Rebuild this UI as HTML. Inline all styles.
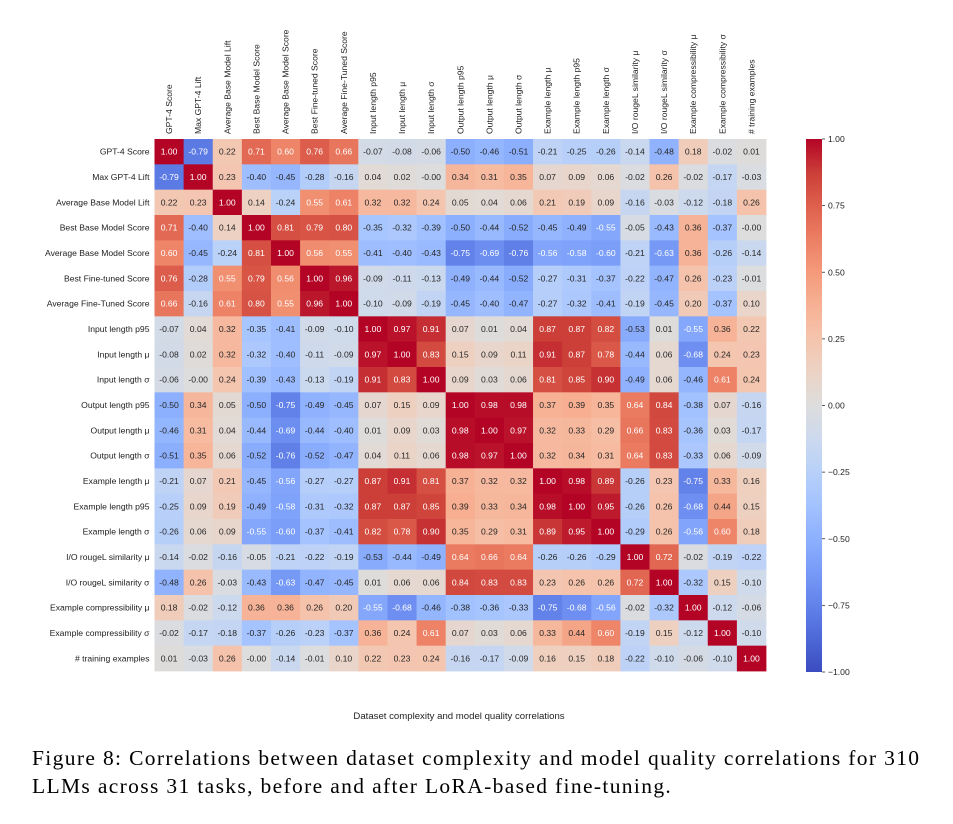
<!DOCTYPE html>
<html><head><meta charset="utf-8"><style>
body{margin:0;background:#fff;width:953px;height:824px;overflow:hidden;}
#cap{position:absolute;left:32px;top:744px;font-family:"Liberation Serif",serif;font-size:21.5px;letter-spacing:1.35px;line-height:28px;color:#000;white-space:nowrap;}
</style></head><body>
<svg id="chart" width="953" height="740" style="position:absolute;left:0;top:0" font-family="Liberation Sans, DejaVu Sans, sans-serif"></svg>
<div id="cap">Figure 8: Correlations between dataset complexity and model quality correlations for 310<br>LLMs across 31 tasks, before and after LoRA-based fine-tuning.</div>
<script>
const labels=["GPT-4 Score","Max GPT-4 Lift","Average Base Model Lift","Best Base Model Score","Average Base Model Score","Best Fine-tuned Score","Average Fine-Tuned Score","Input length p95","Input length μ","Input length σ","Output length p95","Output length μ","Output length σ","Example length μ","Example length p95","Example length σ","I/O rougeL similarity μ","I/O rougeL similarity σ","Example compressibility μ","Example compressibility σ","# training examples"];
const r0=[1.00,-0.79,0.22,0.71,0.60,0.76,0.66,-0.07,-0.08,-0.06,-0.50,-0.46,-0.51,-0.21,-0.25,-0.26,-0.14,-0.48,0.18,-0.02,0.01];
const r1=[-0.79,1.00,0.23,-0.40,-0.45,-0.28,-0.16,0.04,0.02,-0.00,0.34,0.31,0.35,0.07,0.09,0.06,-0.02,0.26,-0.02,-0.17,-0.03];
const r2=[0.22,0.23,1.00,0.14,-0.24,0.55,0.61,0.32,0.32,0.24,0.05,0.04,0.06,0.21,0.19,0.09,-0.16,-0.03,-0.12,-0.18,0.26];
const r3=[0.71,-0.40,0.14,1.00,0.81,0.79,0.80,-0.35,-0.32,-0.39,-0.50,-0.44,-0.52,-0.45,-0.49,-0.55,-0.05,-0.43,0.36,-0.37,-0.00];
const r4=[0.60,-0.45,-0.24,0.81,1.00,0.56,0.55,-0.41,-0.40,-0.43,-0.75,-0.69,-0.76,-0.56,-0.58,-0.60,-0.21,-0.63,0.36,-0.26,-0.14];
const r5=[0.76,-0.28,0.55,0.79,0.56,1.00,0.96,-0.09,-0.11,-0.13,-0.49,-0.44,-0.52,-0.27,-0.31,-0.37,-0.22,-0.47,0.26,-0.23,-0.01];
const r6=[0.66,-0.16,0.61,0.80,0.55,0.96,1.00,-0.10,-0.09,-0.19,-0.45,-0.40,-0.47,-0.27,-0.32,-0.41,-0.19,-0.45,0.20,-0.37,0.10];
const r7=[-0.07,0.04,0.32,-0.35,-0.41,-0.09,-0.10,1.00,0.97,0.91,0.07,0.01,0.04,0.87,0.87,0.82,-0.53,0.01,-0.55,0.36,0.22];
const r8=[-0.08,0.02,0.32,-0.32,-0.40,-0.11,-0.09,0.97,1.00,0.83,0.15,0.09,0.11,0.91,0.87,0.78,-0.44,0.06,-0.68,0.24,0.23];
const r9=[-0.06,-0.00,0.24,-0.39,-0.43,-0.13,-0.19,0.91,0.83,1.00,0.09,0.03,0.06,0.81,0.85,0.90,-0.49,0.06,-0.46,0.61,0.24];
const r10=[-0.50,0.34,0.05,-0.50,-0.75,-0.49,-0.45,0.07,0.15,0.09,1.00,0.98,0.98,0.37,0.39,0.35,0.64,0.84,-0.38,0.07,-0.16];
const r11=[-0.46,0.31,0.04,-0.44,-0.69,-0.44,-0.40,0.01,0.09,0.03,0.98,1.00,0.97,0.32,0.33,0.29,0.66,0.83,-0.36,0.03,-0.17];
const r12=[-0.51,0.35,0.06,-0.52,-0.76,-0.52,-0.47,0.04,0.11,0.06,0.98,0.97,1.00,0.32,0.34,0.31,0.64,0.83,-0.33,0.06,-0.09];
const r13=[-0.21,0.07,0.21,-0.45,-0.56,-0.27,-0.27,0.87,0.91,0.81,0.37,0.32,0.32,1.00,0.98,0.89,-0.26,0.23,-0.75,0.33,0.16];
const r14=[-0.25,0.09,0.19,-0.49,-0.58,-0.31,-0.32,0.87,0.87,0.85,0.39,0.33,0.34,0.98,1.00,0.95,-0.26,0.26,-0.68,0.44,0.15];
const r15=[-0.26,0.06,0.09,-0.55,-0.60,-0.37,-0.41,0.82,0.78,0.90,0.35,0.29,0.31,0.89,0.95,1.00,-0.29,0.26,-0.56,0.60,0.18];
const r16=[-0.14,-0.02,-0.16,-0.05,-0.21,-0.22,-0.19,-0.53,-0.44,-0.49,0.64,0.66,0.64,-0.26,-0.26,-0.29,1.00,0.72,-0.02,-0.19,-0.22];
const r17=[-0.48,0.26,-0.03,-0.43,-0.63,-0.47,-0.45,0.01,0.06,0.06,0.84,0.83,0.83,0.23,0.26,0.26,0.72,1.00,-0.32,0.15,-0.10];
const r18=[0.18,-0.02,-0.12,0.36,0.36,0.26,0.20,-0.55,-0.68,-0.46,-0.38,-0.36,-0.33,-0.75,-0.68,-0.56,-0.02,-0.32,1.00,-0.12,-0.06];
const r19=[-0.02,-0.17,-0.18,-0.37,-0.26,-0.23,-0.37,0.36,0.24,0.61,0.07,0.03,0.06,0.33,0.44,0.60,-0.19,0.15,-0.12,1.00,-0.10];
const r20=[0.01,-0.03,0.26,-0.00,-0.14,-0.01,0.10,0.22,0.23,0.24,-0.16,-0.17,-0.09,0.16,0.15,0.18,-0.22,-0.10,-0.06,-0.10,1.00];
const matrix=[r0,r1,r2,r3,r4,r5,r6,r7,r8,r9,r10,r11,r12,r13,r14,r15,r16,r17,r18,r19,r20];
const cbTicks=[1.00,0.75,0.50,0.25,0.00,-0.25,-0.50,-0.75,-1.00];

const cmap=[[59,76,192],[77,104,215],[98,130,234],[119,154,247],[141,176,254],[163,194,255],[184,208,249],[204,217,238],[221,221,221],[236,211,197],[245,196,173],[247,177,148],[244,154,123],[236,127,99],[222,96,77],[203,62,56],[180,4,38]];
function colorRGB(v){let t=(Math.max(-1,Math.min(1,v))+1)/2*16;let i=Math.min(15,Math.floor(t));let f=t-i;const a=cmap[i],b=cmap[i+1];return [0,1,2].map(k=>Math.round(a[k]+(b[k]-a[k])*f));}
function rgbStr(c){return `rgb(${c[0]},${c[1]},${c[2]})`;}
function lum(c){const l=c.map(x=>{x/=255;return x<=0.03928?x/12.92:Math.pow((x+0.055)/1.055,2.4);});return 0.2126*l[0]+0.7152*l[1]+0.0722*l[2];}
function fmt(v){return (Object.is(v,-0)?'-':'')+v.toFixed(2);}

const svg=document.getElementById('chart');const NS='http://www.w3.org/2000/svg';
function mk(tag,attrs,parent){const e=document.createElementNS(NS,tag);for(const k in attrs)e.setAttribute(k,attrs[k]);(parent||svg).appendChild(e);return e;}
const X0=154.5,X1=766,Y0=139,Y1=671,n=labels.length;
const cw=(X1-X0)/n,ch=(Y1-Y0)/n;
const xPos=j=>X0+j*cw, yPos=i=>Y0+i*ch;
matrix.forEach((row,i)=>row.forEach((v,j)=>{
  const c=colorRGB(v);
  const r=mk('rect',{x:xPos(j),y:yPos(i),width:cw+0.4,height:ch+0.4,fill:rgbStr(c)});
  
  
  const t=mk('text',{x:xPos(j)+cw/2,y:yPos(i)+ch/2+3,'text-anchor':'middle','font-size':'8.6',fill:lum(c)<0.408?'#fff':'#262626'});
  t.textContent=fmt(v);
  
  
}));
labels.forEach((l,i)=>{
  const t=mk('text',{x:X0-5,y:yPos(i)+ch/2+3,'text-anchor':'end','font-size':'8.6',fill:'#222'});
  t.textContent=l;
  
  
  const cx=xPos(i)+cw/2+3;
  const u=mk('text',{x:cx,y:Y0-5,'font-size':'8.6',fill:'#222',transform:`rotate(-90 ${cx} ${Y0-5})`});
  u.textContent=l;
  
  
});
const CX=806,CW=16,CY0=139,CY1=672;
const defs=mk('defs',{});const g=mk('linearGradient',{id:'cb',x1:0,y1:1,x2:0,y2:0},defs);
cmap.forEach((c,k)=>mk('stop',{offset:k/16,'stop-color':rgbStr(c)},g));
const cb=mk('rect',{x:CX,y:CY0,width:CW,height:CY1-CY0,fill:'url(#cb)'});


const cbY=v=>CY1-(v+1)/2*(CY1-CY0);
cbTicks.forEach(v=>{
  mk('line',{x1:CX+CW,x2:CX+CW+3,y1:cbY(v),y2:cbY(v),stroke:'#333','stroke-width':0.8});
  const t=mk('text',{x:CX+CW+6,y:cbY(v)+3,'font-size':'8.6',fill:'#222'});
  t.textContent=v.toFixed(2).replace('-','−');
  
  
});
const tt=mk('text',{x:459,y:719,'text-anchor':'middle','font-size':'9.6',fill:'#222'});
tt.textContent='Dataset complexity and model quality correlations';


</script>
</body></html>
